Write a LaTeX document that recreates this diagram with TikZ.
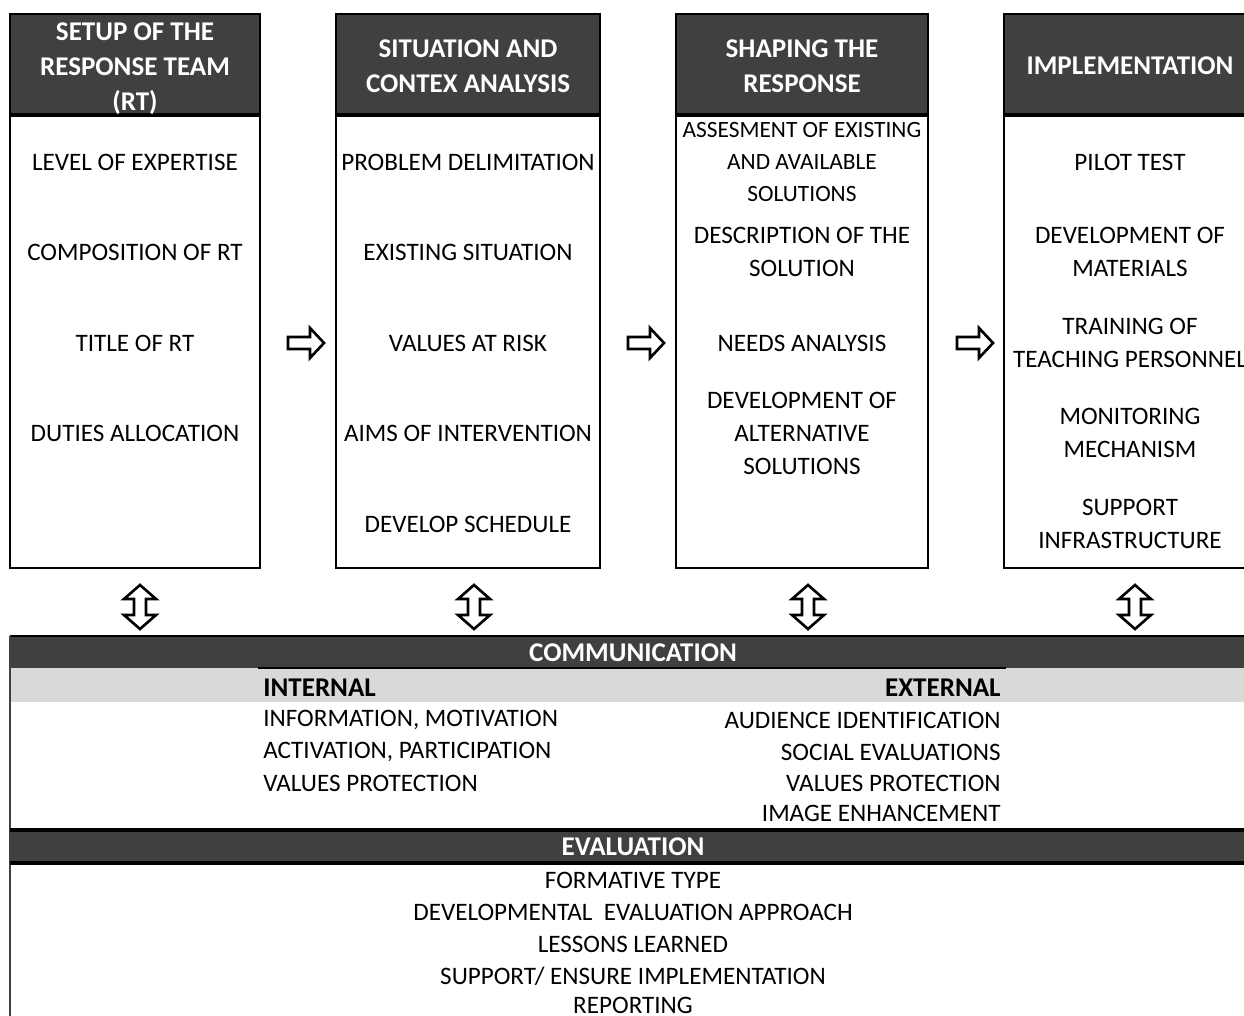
\documentclass[tikz,border=0pt]{standalone}
\usepackage{fontspec}
\setmainfont{Carlito}
\usetikzlibrary{positioning}
\definecolor{headgray}{HTML}{404040}
\definecolor{bandgray}{HTML}{D9D9D9}
\tikzset{
  frame/.style={draw=black, line width=1.6pt},
  sepline/.style={black, line width=2.2pt},
  headtext/.style={text=white, align=center, inner sep=0pt, font=\bfseries\fontsize{15.4}{19.9}\selectfont},
  item/.style={align=center, inner sep=0pt, font=\fontsize{14.3}{18.8}\selectfont},
  smallitem/.style={item, font=\fontsize{13.3}{18.3}\selectfont},
  bolditem/.style={item, font=\bfseries\fontsize{15.4}{18.8}\selectfont},
  rarrow/.pic={\draw[line width=1.5pt, miter limit=6, fill=white]
     (-18,-6) -- (4,-6) -- (4,-15) -- (18,0) -- (4,15) -- (4,6) -- (-18,6) -- cycle;},
  udarrow/.pic={\draw[line width=1.5pt, miter limit=6, fill=white]
     (-6,-8) -- (-16,-8) -- (0,-22) -- (16,-8) -- (6,-8) -- (6,8) -- (16,8) -- (0,22) -- (-16,8) -- (-6,8) -- cycle;}
}

\begin{document}
\begin{tikzpicture}[x=0.02cm, y=-0.02cm]
  \useasboundingbox (0,0) rectangle (1244,1016);

  % the four phases
  \fill[headgray] (10,14) rectangle (260,115);
  \fill[headgray] (336,14) rectangle (600,115);
  \fill[headgray] (676,14) rectangle (928,115);
  \fill[headgray] (1004,14) rectangle (1260,115);
  \draw[frame] (10,14) rectangle (260,568);
  \draw[frame] (336,14) rectangle (600,568);
  \draw[frame] (676,14) rectangle (928,568);
  \draw[frame] (1004,14) rectangle (1260,568);
  \draw[sepline] (10,115) -- (260,115);
  \draw[sepline] (336,115) -- (600,115);
  \draw[sepline] (676,115) -- (928,115);
  \draw[sepline] (1004,115) -- (1260,115);

  \node[headtext] (h1) at (135,69) {SETUP OF THE\\RESPONSE TEAM\\(RT)};
  \node[headtext] (h2) at (468,66) {SITUATION AND\\CONTEX ANALYSIS};
  \node[headtext] (h3) at (802,66) {SHAPING THE\\RESPONSE};
  \node[headtext] (h4) at (1130,66) {IMPLEMENTATION};

  \node[item] (a1) at (135,162) {LEVEL OF EXPERTISE};
  \node[item] (a2) at (135,252) {COMPOSITION OF RT};
  \node[item] (a3) at (135,343) {TITLE OF RT};
  \node[item] (a4) at (135,433) {DUTIES ALLOCATION};

  \node[item] (b1) at (468,162) {PROBLEM DELIMITATION};
  \node[item] (b2) at (468,252) {EXISTING SITUATION};
  \node[item] (b3) at (468,343) {VALUES AT RISK};
  \node[item] (b4) at (468,433) {AIMS OF INTERVENTION};
  \node[item] (b5) at (468,524) {DEVELOP SCHEDULE};

  \node[smallitem] (c1) at (802,162) {ASSESMENT OF EXISTING\\AND AVAILABLE\\SOLUTIONS};
  \node[item] (c2) at (802,252) {DESCRIPTION OF THE\\SOLUTION};
  \node[item] (c3) at (802,343) {NEEDS ANALYSIS};
  \node[item] (c4) at (802,433) {DEVELOPMENT OF\\ALTERNATIVE\\SOLUTIONS};

  \node[item] (d1) at (1130,162) {PILOT TEST};
  \node[item] (d2) at (1130,252) {DEVELOPMENT OF\\MATERIALS};
  \node[item] (d3) at (1130,343) {TRAINING OF\\TEACHING PERSONNEL};
  \node[item] (d4) at (1130,433) {MONITORING\\MECHANISM};
  \node[item] (d5) at (1130,524) {SUPPORT\\INFRASTRUCTURE};

  \pic at (306,343) {rarrow};
  \pic at (646,343) {rarrow};
  \pic at (975,343) {rarrow};

  \pic at (140,607) {udarrow};
  \pic at (474,607) {udarrow};
  \pic at (808,607) {udarrow};
  \pic at (1135,607) {udarrow};

  % communication
  \fill[headgray] (10,636) rectangle (1260,668);
  \fill[bandgray] (10,668) rectangle (1260,702);
  \draw[black, line width=1.6pt] (10,636) -- (1260,636);
  \draw[black, line width=1.2pt] (258,668) -- (1006,668);
  \draw[headgray, line width=1.4pt] (10,636) -- (10,1030);
  \node[headtext] (comm) at (633,653) {COMMUNICATION};

  \node[bolditem, anchor=west] (int) at (263,688) {INTERNAL};
  \node[bolditem, anchor=east] (ext) at (1001,688) {EXTERNAL};
  \node[item, anchor=west] (i1) at (263,720) {INFORMATION, MOTIVATION};
  \node[item, anchor=west] (i2) at (263,752) {ACTIVATION, PARTICIPATION};
  \node[item, anchor=west] (i3) at (263,783) {VALUES PROTECTION};
  \node[item, anchor=east] (e1) at (1001,720) {AUDIENCE IDENTIFICATION};
  \node[item, anchor=east] (e2) at (1001,752) {SOCIAL EVALUATIONS};
  \node[item, anchor=east] (e3) at (1001,783) {VALUES PROTECTION};
  \node[item, anchor=east] (e4) at (1001,813) {IMAGE ENHANCEMENT};

  % evaluation
  \fill[headgray] (10,830) rectangle (1260,863);
  \draw[black, line width=1.8pt] (10,830) -- (1260,830) (10,863) -- (1260,863);
  \node[headtext] (eval) at (633,847) {EVALUATION};
  \node[item] (v1) at (633,880) {FORMATIVE TYPE};
  \node[item] (v2) at (633,912) {DEVELOPMENTAL~ EVALUATION APPROACH};
  \node[item] (v3) at (633,944) {LESSONS LEARNED};
  \node[item] (v4) at (633,976) {SUPPORT/ ENSURE IMPLEMENTATION};
  \node[item] (v5) at (633,1005) {REPORTING};
\end{tikzpicture}
\end{document}
